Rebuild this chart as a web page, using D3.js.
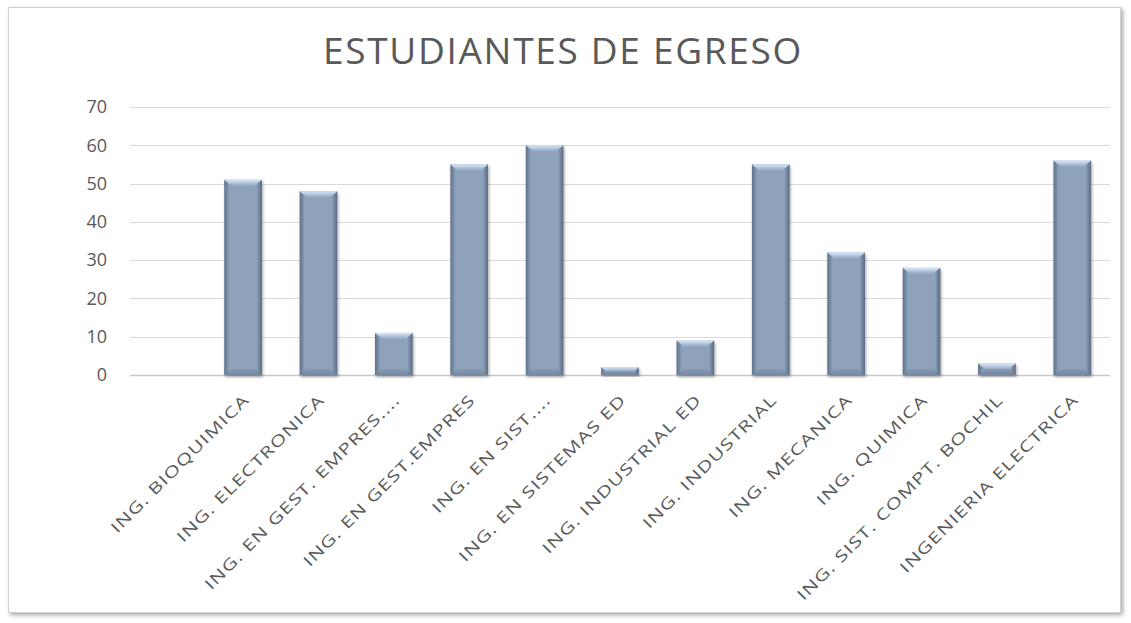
<!DOCTYPE html>
<html>
<head>
<meta charset="utf-8">
<script src="https://cdn.jsdelivr.net/npm/d3@7"></script>
<style>
  body { margin: 0; background: #fff; }
  #container { width: 1131px; height: 623px; }
</style>
</head>
<body>
<div id="container"></div>
<script>
const title = 'ESTUDIANTES DE EGRESO';
// first category is blank in the source sheet
const categories = ['', 'ING. BIOQUIMICA', 'ING. ELECTRONICA', 'ING. EN GEST. EMPRES....', 'ING. EN GEST.EMPRES',
    'ING. EN SIST....', 'ING. EN SISTEMAS ED', 'ING. INDUSTRIAL ED', 'ING. INDUSTRIAL',
    'ING. MECANICA', 'ING. QUIMICA', 'ING. SIST. COMPT. BOCHIL', 'INGENIERIA ELECTRICA'];
const values = [null, 51, 48, 11, 55, 60, 2, 9, 55, 32, 28, 3, 56];
const yTicks = [0, 10, 20, 30, 40, 50, 60, 70];

const width = 1131, height = 623;
const margin = { top: 107, right: 21, bottom: 248, left: 130 };

const svg = d3.select('#container').append('svg')
    .attr('width', width)
    .attr('height', height);

const defs = svg.append('defs');

// frame shadow
const fs = defs.append('filter').attr('id', 'frameShadow')
    .attr('x', '-5%').attr('y', '-5%').attr('width', '110%').attr('height', '110%');
fs.append('feDropShadow').attr('dx', 2).attr('dy', 2).attr('stdDeviation', 2)
    .attr('flood-color', '#000').attr('flood-opacity', 0.35);

const bs = defs.append('filter').attr('id', 'barShadow')
    .attr('x', '-30%').attr('y', '-10%').attr('width', '160%').attr('height', '130%');
bs.append('feDropShadow').attr('dx', 1).attr('dy', 2).attr('stdDeviation', 1.6)
    .attr('flood-color', '#000').attr('flood-opacity', 0.35);

const bodyGrad = defs.append('linearGradient').attr('id', 'barBody')
    .attr('x1', 0).attr('x2', 1).attr('y1', 0).attr('y2', 0);
[['0%', '#5f7189'], ['10%', '#7f93ac'], ['14%', '#8ea3bb'], ['86%', '#8ea3bb'], ['90%', '#7d90a8'], ['100%', '#5a6b82']]
    .forEach(s => bodyGrad.append('stop').attr('offset', s[0]).attr('stop-color', s[1]));

const topGrad = defs.append('linearGradient').attr('id', 'barTop')
    .attr('x1', 0).attr('x2', 0).attr('y1', 0).attr('y2', 1);
[['0%', '#dbe8f7'], ['45%', '#b7cbe3'], ['100%', '#94a9c2']]
    .forEach(s => topGrad.append('stop').attr('offset', s[0]).attr('stop-color', s[1]));

const botGrad = defs.append('linearGradient').attr('id', 'barBottom')
    .attr('x1', 0).attr('x2', 0).attr('y1', 0).attr('y2', 1);
[['0%', '#8497af'], ['100%', '#6f8199']]
    .forEach(s => botGrad.append('stop').attr('offset', s[0]).attr('stop-color', s[1]));

// chart frame
svg.append('rect')
    .attr('x', 8.5).attr('y', 7.5)
    .attr('width', 1112).attr('height', 605)
    .attr('fill', '#fff')
    .attr('stroke', '#d0d0d0')
    .attr('filter', 'url(#frameShadow)');

svg.append('text')
    .attr('x', 563).attr('y', 64)
    .attr('text-anchor', 'middle')
    .attr('font-family', '"Open Sans", sans-serif')
    .attr('font-size', 37)
    .attr('letter-spacing', 1.7)
    .attr('fill', '#595959')
    .text(title);

const x = d3.scaleBand()
    .domain(categories.map((d, i) => i))
    .range([margin.left, width - margin.right])
    .paddingInner(0.5).paddingOuter(0.25);

const y = d3.scaleLinear()
    .domain([0, 70])
    .range([height - margin.bottom, margin.top]);

// gridlines
svg.append('g')
    .selectAll('line')
    .data(yTicks)
    .join('line')
    .attr('x1', margin.left).attr('x2', width - margin.right)
    .attr('y1', d => Math.round(y(d)) + 0.5).attr('y2', d => Math.round(y(d)) + 0.5)
    .attr('stroke', d => d === 0 ? '#c8c8c8' : '#d9d9d9')
    .attr('stroke-width', d => d === 0 ? 1.5 : 1);

const yAxis = svg.append('g')
    .attr('transform', `translate(${margin.left - 23},0)`)
    .call(d3.axisLeft(y).tickValues(yTicks).tickSize(0).tickPadding(0));
yAxis.select('.domain').remove();
yAxis.selectAll('text')
    .attr('font-family', '"Open Sans", sans-serif')
    .attr('font-size', 18)
    .attr('fill', '#595959');

// bars
const bw = x.bandwidth();
const bars = svg.append('g')
    .selectAll('g')
    .data(values.map((v, i) => ({ v, i })).filter(d => d.v != null))
    .join('g')
    .attr('transform', d => `translate(${x(d.i)},0)`);

bars.append('rect')
    .attr('x', 0).attr('width', bw)
    .attr('y', d => y(d.v))
    .attr('height', d => y(0) - y(d.v))
    .attr('fill', 'url(#barBody)')
    .attr('filter', 'url(#barShadow)');

const bevel = d => Math.min(6, (y(0) - y(d.v)) / 2);
bars.append('path')
    .attr('d', d => {
        const t = y(d.v), b = bevel(d);
        return `M0,${t}H${bw}L${bw - b * 1.2},${t + b}H${b * 1.2}Z`;
    })
    .attr('fill', 'url(#barTop)');
bars.append('path')
    .attr('d', d => {
        const b0 = y(0), b = bevel(d);
        return `M0,${b0}H${bw}L${bw - b * 1.2},${b0 - b}H${b * 1.2}Z`;
    })
    .attr('fill', 'url(#barBottom)')
    .attr('opacity', 0.8);

// category labels (wide geometric face approximated by stretching)
svg.append('g')
    .selectAll('text')
    .data(categories.map((c, i) => ({ c, i })).filter(d => d.c))
    .join('text')
    .attr('transform', d => `translate(${x(d.i) + bw / 2 + 7},${y(0) + 26}) rotate(-45) scale(1.35,1)`)
    .attr('text-anchor', 'end')
    .attr('font-family', '"Open Sans", sans-serif')
    .attr('font-size', 15.5)
    .attr('letter-spacing', 0.8)
    .attr('fill', '#595959')
    .text(d => d.c);
</script>
</body>
</html>
